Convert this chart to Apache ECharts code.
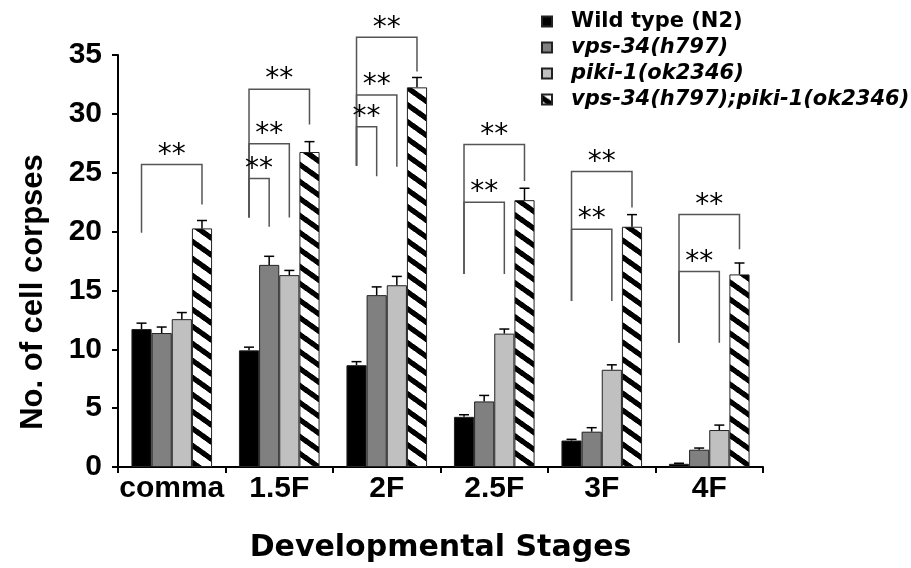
<!DOCTYPE html>
<html>
<head>
<meta charset="utf-8">
<script src="https://cdn.jsdelivr.net/npm/echarts@6/dist/echarts.min.js"></script>
<style>html,body{margin:0;padding:0;background:#fff;}#chart{width:911px;height:568px;}</style>
</head>
<body>
<div id="chart"></div>
<script>
// ---- data ----
const categories = ['comma', '1.5F', '2F', '2.5F', '3F', '4F'];
const seriesNames = ['Wild type (N2)', 'vps-34(h797)', 'piki-1(ok2346)', 'vps-34(h797);piki-1(ok2346)'];
const wildType    = [11.72, 9.91, 8.65, 4.26, 2.25, 0.27];
const wildTypeErr = [0.50, 0.27, 0.30, 0.18, 0.10, 0.05];
const vps34       = [11.38, 17.17, 14.60, 5.57, 3.00, 1.47];
const vps34Err    = [0.51, 0.73, 0.70, 0.51, 0.34, 0.14];
const piki1       = [12.56, 16.30, 15.44, 11.33, 8.26, 3.14];
const piki1Err    = [0.56, 0.40, 0.75, 0.39, 0.42, 0.42];
const doubleMut   = [20.27, 26.76, 32.25, 22.67, 20.41, 16.36];
const doubleErr   = [0.67, 0.88, 0.84, 1.01, 1.03, 0.97];
const yTicks = [0, 5, 10, 15, 20, 25, 30, 35];

// significance brackets (category index, target bar index, top value, left leg end, right leg end)
const bracketCat      = [0, 1, 1, 1, 2, 2, 2, 3, 3, 4, 4, 5, 5];
const bracketTo       = [3, 3, 2, 1, 3, 2, 1, 3, 2, 3, 2, 3, 2];
const bracketTop      = [25.7, 32.1, 27.45, 24.5, 36.5, 31.6, 28.9, 27.4, 22.5, 25.1, 20.2, 21.45, 16.6];
const bracketLeftEnd  = [19.9, 21.2, 21.2, 21.2, 25.6, 25.6, 25.6, 16.4, 16.4, 14.1, 14.1, 10.55, 10.55];
const bracketRightEnd = [22.3, 29.1, 21.2, 20.4, 33.6, 25.5, 24.7, 24.3, 16.4, 22.05, 14.1, 18.5, 10.55];
const bracketLabel = '**';

// ---- hatch pattern ----
function makeHatch() {
  const W = 24, H = 17, band = 6.5;
  const c = document.createElement('canvas');
  c.width = W; c.height = H;
  const ctx = c.getContext('2d');
  const img = ctx.createImageData(W, H);
  for (let x = 0; x < W; x++) {
    for (let y = 0; y < H; y++) {
      let cov = 0;
      for (let sy = 0; sy < 4; sy++) {
        const yy = y + (sy + 0.5) / 4;
        const d = (((yy - (x + 0.5) * H / W) % H) + H) % H;
        if (d < band) cov++;
      }
      const v = Math.round(255 * (1 - cov / 4));
      const i = (y * W + x) * 4;
      img.data[i] = v; img.data[i + 1] = v; img.data[i + 2] = v; img.data[i + 3] = 255;
    }
  }
  ctx.putImageData(img, 0, 0);
  return c;
}
const hatch = { image: makeHatch(), repeat: 'repeat' };

const values = [wildType, vps34, piki1, doubleMut];
const errs = [wildTypeErr, vps34Err, piki1Err, doubleErr];
const colors = ['#000000', '#808080', '#c0c0c0', hatch];

const errData = [];
for (let s = 0; s < 4; s++) {
  for (let i = 0; i < categories.length; i++) {
    errData.push([i, s, values[s][i], errs[s][i]]);
  }
}
const bracketData = bracketCat.map((c, k) => [c, bracketTo[k], bracketTop[k], bracketLeftEnd[k], bracketRightEnd[k]]);

const CAT_FILL = 0.75; // 1 - barCategoryGap
function barX(api, cat, idx) {
  const catW = api.size([1, 0])[0];
  const bw = catW * CAT_FILL / 4;
  const cx = api.coord([cat, 0])[0];
  return cx + (idx - 1.5) * bw;
}

const chart = echarts.init(document.getElementById('chart'), null, { renderer: 'canvas' });
const font = '"Liberation Sans", Arial, sans-serif';

const series = values.map((v, s) => ({
  name: seriesNames[s],
  type: 'bar',
  data: v,
  barGap: '0%',
  barCategoryGap: '25%',
  itemStyle: { color: colors[s], borderColor: '#222', borderWidth: 1 },
  z: 2
}));

series.push({
  type: 'custom',
  name: 'err',
  data: errData,
  encode: { x: 0, y: 2 },
  z: 3,
  renderItem: function (params, api) {
    const cat = api.value(0), s = api.value(1), v = api.value(2), e = api.value(3);
    const x = barX(api, cat, s);
    const y0 = api.coord([cat, v])[1];
    const y1 = api.coord([cat, v + e])[1];
    const cap = 5;
    return {
      type: 'group',
      children: [
        { type: 'line', shape: { x1: x, y1: y0, x2: x, y2: y1 }, style: { stroke: '#000', lineWidth: 1.5 } },
        { type: 'line', shape: { x1: x - cap, y1: y1, x2: x + cap, y2: y1 }, style: { stroke: '#000', lineWidth: 1.5 } }
      ]
    };
  }
});

series.push({
  type: 'custom',
  name: 'brackets',
  data: bracketData,
  encode: { x: 0, y: 2 },
  clip: false,
  z: 4,
  renderItem: function (params, api) {
    const cat = api.value(0), to = api.value(1);
    const xl = barX(api, cat, 0);
    const xr = barX(api, cat, to);
    const yt = api.coord([cat, api.value(2)])[1];
    const yl = api.coord([cat, api.value(3)])[1];
    const yr = api.coord([cat, api.value(4)])[1];
    return {
      type: 'group',
      children: [
        { type: 'polyline', shape: { points: [[xl, yl], [xl, yt], [xr, yt], [xr, yr]] },
          style: { stroke: '#555', lineWidth: 1.5, fill: null } },
        { type: 'text', x: (xl + xr) / 2, y: yt + 5,
          style: { text: bracketLabel, font: '28px "DejaVu Sans", sans-serif', fill: '#000', align: 'center', verticalAlign: 'bottom' } }
      ]
    };
  }
});

chart.setOption({
  animation: false,
  backgroundColor: '#fff',
  grid: { left: 118, right: 148, top: 55, bottom: 96, containLabel: false },
  legend: {
    data: seriesNames,
    orient: 'vertical',
    left: 536, top: 6,
    itemWidth: 10, itemHeight: 10, itemGap: 5,
    icon: 'rect',
    formatter: function (name) {
      return (name === seriesNames[0] ? '{b|' : '{i|') + name + '}';
    },
    textStyle: {
      rich: {
        b: { fontFamily: '"DejaVu Sans", sans-serif', fontWeight: 'bold', fontSize: 21, lineHeight: 22, color: '#000', padding: [0, 0, 0, 14] },
        i: { fontFamily: '"DejaVu Sans", sans-serif', fontWeight: 'bold', fontStyle: 'italic', fontSize: 21, lineHeight: 22, color: '#000', padding: [0, 0, 0, 14] }
      }
    }
  },
  xAxis: {
    type: 'category',
    data: categories,
    axisLine: { lineStyle: { color: '#000', width: 2 } },
    axisTick: { show: true, interval: 0, length: 6, lineStyle: { color: '#000', width: 2 } },
    axisLabel: { interval: 0, hideOverlap: false, fontFamily: font, fontWeight: 'bold', fontSize: 30, color: '#000', margin: 7 },
    name: 'Developmental Stages',
    nameLocation: 'middle',
    nameGap: 66,
    nameTextStyle: { fontFamily: '"DejaVu Sans", sans-serif', fontWeight: 'bold', fontSize: 30, color: '#000' }
  },
  yAxis: {
    type: 'value',
    min: yTicks[0], max: yTicks[yTicks.length - 1], interval: yTicks[1] - yTicks[0],
    axisLine: { show: true, lineStyle: { color: '#000', width: 2 } },
    axisTick: { show: true, length: 6, lineStyle: { color: '#000', width: 2 } },
    splitLine: { show: false },
    axisLabel: { fontFamily: font, fontWeight: 'bold', fontSize: 30, color: '#000', margin: 16 }
  },
  graphic: [{
    type: 'text',
    x: 33, y: 292,
    rotation: Math.PI / 2,
    style: { text: 'No. of cell corpses', font: 'bold 31px "Liberation Sans", Arial, sans-serif', fill: '#000', align: 'center', verticalAlign: 'middle' }
  }],
  series: series
});
</script>
</body>
</html>
